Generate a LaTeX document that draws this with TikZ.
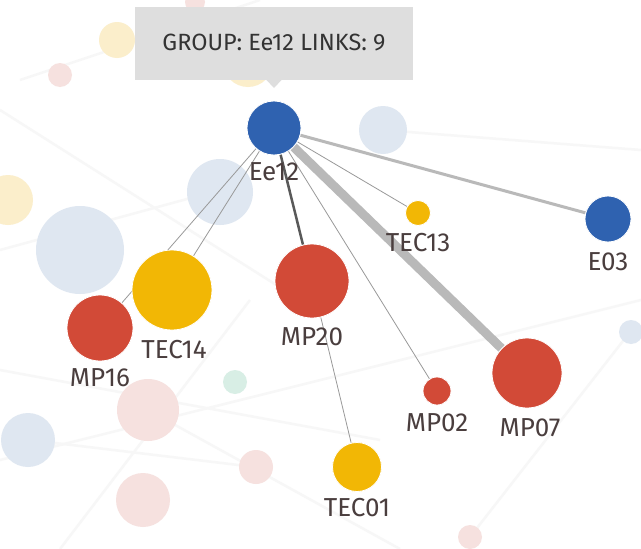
\documentclass[tikz,border=0pt]{standalone}
\usepackage{fontspec}
\setmainfont{Fira Sans}
\usetikzlibrary{shapes.geometric}
\definecolor{nblue}{HTML}{2F62B0}
\definecolor{nred}{HTML}{D24A37}
\definecolor{nyellow}{HTML}{F2B705}
\definecolor{lblue}{HTML}{DFE7F1}
\definecolor{lpink}{HTML}{F6E1DF}
\definecolor{lyellow}{HTML}{FBEECB}
\definecolor{lgreen}{HTML}{D8EEE5}
\definecolor{labc}{HTML}{4A3E3E}
\tikzset{
  x=1pt, y=-1pt,
  dot/.style={circle, inner sep=0pt, minimum size=#1, draw=white, line width=0.8pt},
  ghost/.style={circle, inner sep=0pt, minimum size=#1},
  lab/.style={font=\fontsize{26}{28}\selectfont, text=labc, inner sep=1pt},
  thin link/.style={draw=gray!80, line width=0.8pt},
  bgline/.style={draw=gray!6, line width=2.5pt},
}
\begin{document}
\begin{tikzpicture}
\useasboundingbox (0,0) rectangle (641,549);
\fill[white] (0,0) rectangle (641,549);
% faint background lines
\draw[bgline] (0,110) -- (300,300);
\draw[bgline] (0,460) -- (641,300);
\draw[bgline] (20,80) -- (260,0);
\draw[bgline] (0,370) -- (380,440);
\draw[bgline] (60,549) -- (250,300);
\draw[bgline] (148,410) -- (400,549);
\draw[bgline] (0,250) -- (220,190);
\draw[bgline] (383,130) -- (641,150);
\draw[bgline] (470,537) -- (630,332);
\draw[bgline] (30,440) -- (255,467);
% faint background circles
\node[ghost=36, fill=lyellow] (g1) at (117,40) {};
\node[ghost=24, fill=lpink] (g2) at (60,75) {};
\node[ghost=20, fill=lpink] (g3) at (195,2) {};
\node[ghost=48, fill=lblue] (g4) at (383,130) {};
\node[ghost=66, fill=lblue] (g5) at (220,192) {};
\node[ghost=88, fill=lblue] (g6) at (80,250) {};
\node[ghost=50, fill=lyellow] (g7) at (8,200) {};
\node[ghost=24, fill=lgreen] (g8) at (235,382) {};
\node[ghost=62, fill=lpink] (g9) at (148,410) {};
\node[ghost=54, fill=lblue] (g10) at (28,440) {};
\node[ghost=34, fill=lpink] (g11) at (256,467) {};
\node[ghost=54, fill=lpink] (g12) at (143,500) {};
\node[ghost=24, fill=lpink] (g13) at (470,537) {};
\node[ghost=24, fill=lblue] (g14) at (631,332) {};
\node[ghost=50, fill=lyellow] (g15) at (248,62) {};
% main nodes
\node[dot=54, fill=nblue] (ee12) at (274,128) {};
\node[dot=25, fill=nyellow] (tec13) at (418,213) {};
\node[dot=46, fill=nblue] (e03) at (608,219) {};
\node[dot=80, fill=nyellow] (tec14) at (172,290) {};
\node[dot=66, fill=nred] (mp16) at (100,328) {};
\node[dot=74, fill=nred] (mp20) at (312,281) {};
\node[dot=28, fill=nred] (mp02) at (437,391) {};
\node[dot=70, fill=nred] (mp07) at (527,373) {};
\node[dot=49, fill=nyellow] (tec01) at (357,467) {};
% links
\path[thin link] (ee12) -- (mp16);
\path[thin link] (ee12) -- (tec14);
\path[draw=gray!70!black, line width=2.5pt] (ee12) -- (mp20);
\path[thin link] (ee12) -- (mp02);
\path[thin link] (ee12) -- (tec13);
\path[draw=gray!55, line width=3pt] (ee12) -- (e03);
\path[draw=gray!55, line width=9pt] (ee12) -- (mp07);
\path[thin link] (mp20) -- (tec01);
% redraw circles on top of links
\node[dot=54, fill=nblue] at (ee12) {};
\node[dot=25, fill=nyellow] at (tec13) {};
\node[dot=46, fill=nblue] at (e03) {};
\node[dot=80, fill=nyellow] at (tec14) {};
\node[dot=66, fill=nred] at (mp16) {};
\node[dot=74, fill=nred] at (mp20) {};
\node[dot=28, fill=nred] at (mp02) {};
\node[dot=70, fill=nred] at (mp07) {};
\node[dot=49, fill=nyellow] at (tec01) {};
% labels
\node[lab] (lee12) at (274,172) {Ee12};
\node[lab] (ltec13) at (418,243) {TEC13};
\node[lab] (le03) at (608,262) {E03};
\node[lab] (ltec14) at (174,350) {TEC14};
\node[lab] (lmp16) at (100,378) {MP16};
\node[lab] (lmp20) at (312,337) {MP20};
\node[lab] (lmp02) at (437,423) {MP02};
\node[lab] (lmp07) at (530,428) {MP07};
\node[lab] (ltec01) at (357,508) {TEC01};
% tooltip
\node[fill=black!13, minimum width=278, minimum height=73, inner sep=0pt,
      font=\fontsize{23.5}{26}\selectfont, text=black!80] (tip) at (274,43) {GROUP: Ee12 LINKS: 9};
\fill[black!13] (266,79.5) -- (282,79.5) -- (274,88) -- cycle;
\end{tikzpicture}
\end{document}
